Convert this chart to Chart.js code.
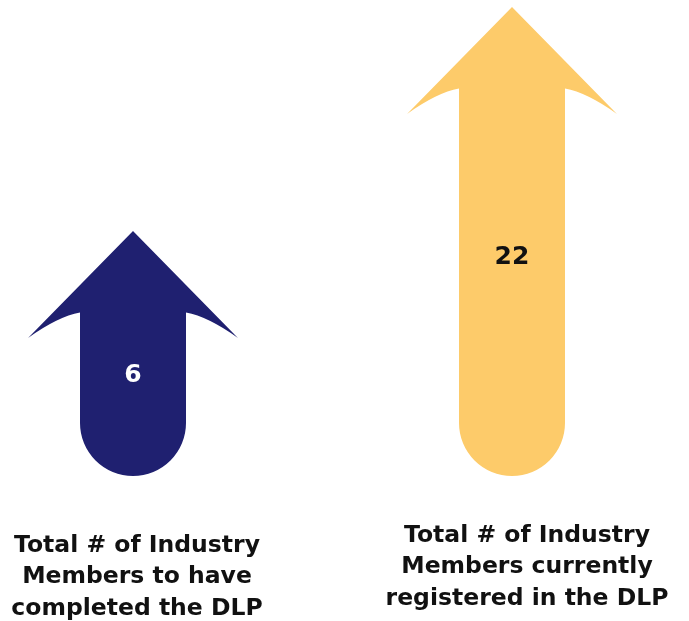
<!DOCTYPE html>
<html>
<head>
<meta charset="utf-8">
<script src="https://cdn.jsdelivr.net/npm/chart.js@4"></script>
<style>
  body { margin: 0; background: #fff; }
  #wrap { width: 689px; height: 621px; }
</style>
</head>
<body>
<div id="wrap"><canvas id="arrowChart" width="689" height="621"></canvas></div>
<script>
const categories = [
  ['Total # of Industry', 'Members to have', 'completed the DLP'],
  ['Total # of Industry', 'Members currently', 'registered in the DLP']
];
const values = [6, 22];
const arrowColors = ['#1f2070', '#fdcb6a'];
const valueColors = ['#ffffff', '#111111'];

const FONT = '"DejaVu Sans", sans-serif';

// Draws each bar as an up-arrow: pointed head at the value, rounded foot at the base
const arrowPlugin = {
  id: 'arrows',
  afterDatasetsDraw(chart, args, opts) {
    const ctx = chart.ctx;
    const meta = chart.getDatasetMeta(0);
    meta.data.forEach((bar, i) => {
      const { x, y, base, width } = bar.getProps(['x', 'y', 'base', 'width'], true);
      const half = width / 2;
      const headHalf = width * 0.99;
      const headLen = width * 1.01;
      const stemTop = y + width * 0.77;
      const footY = base - half;

      ctx.save();
      ctx.fillStyle = arrowColors[i];
      ctx.beginPath();
      ctx.moveTo(x, y);
      ctx.lineTo(x + headHalf, y + headLen);
      ctx.quadraticCurveTo(x + half + 22, stemTop + 4, x + half, stemTop);
      ctx.lineTo(x + half, footY);
      ctx.arc(x, footY, half, 0, Math.PI, false);
      ctx.lineTo(x - half, stemTop);
      ctx.quadraticCurveTo(x - half - 22, stemTop + 4, x - headHalf, y + headLen);
      ctx.closePath();
      ctx.fill();

      // value inside the arrow
      ctx.fillStyle = valueColors[i];
      ctx.font = 'bold 25px ' + FONT;
      ctx.textAlign = 'center';
      ctx.textBaseline = 'middle';
      ctx.fillText(String(values[i]), x, (y + base) / 2 + opts.valueDy[i]);

      // category caption under the arrow
      ctx.fillStyle = '#111111';
      ctx.font = 'bold 23.5px ' + FONT;
      const lx = x + opts.labelDx[i];
      categories[i].forEach((line, k) => {
        ctx.fillText(line, lx, opts.labelY[i] + k * 31.2);
      });
      ctx.restore();
    });
  }
};

new Chart(document.getElementById('arrowChart'), {
  type: 'bar',
  data: {
    labels: categories,
    datasets: [{
      data: values,
      base: -11.5,
      backgroundColor: 'rgba(0,0,0,0)',
      barThickness: 106
    }]
  },
  options: {
    responsive: false,
    animation: false,
    events: [],
    layout: { padding: { left: 133, right: 177, top: 0, bottom: 145 } },
    scales: {
      x: { display: false, offset: false },
      y: { display: false, min: -11.5, max: 22.5 }
    },
    plugins: {
      legend: { display: false },
      tooltip: { enabled: false },
      arrows: { labelDx: [4, 15], labelY: [546, 536], valueDy: [22, 16] }
    }
  },
  plugins: [arrowPlugin]
});
</script>
</body>
</html>
